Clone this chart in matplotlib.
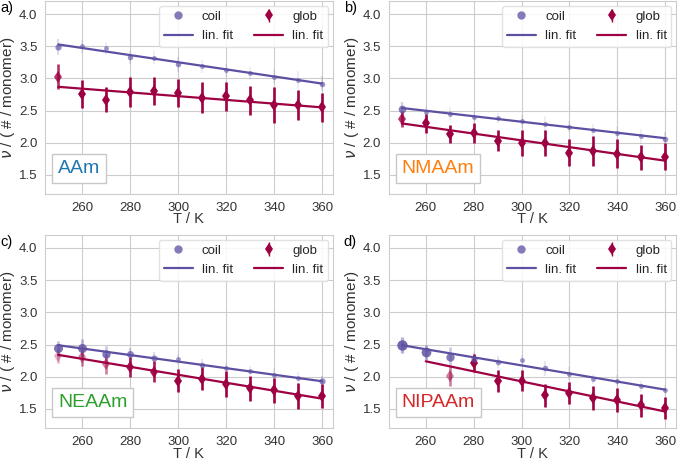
import numpy as np
import matplotlib
matplotlib.use("Agg")
import matplotlib.pyplot as plt
import seaborn as sns

sns.set_style("whitegrid")
plt.rcParams['font.family'] = ['Liberation Sans', 'DejaVu Sans']

T = [250, 260, 270, 280, 290, 300, 310, 320, 330, 340, 350, 360]

names = ["AAm", "NMAAm", "NEAAm", "NIPAAm"]
name_colors = ["#1f77b4", "#ff7f0e", "#2ca02c", "#d62728"]
letters = ["a)", "b)", "c)", "d)"]

# coil values per panel
coil_y = [
    [3.49, 3.50, 3.47, 3.33, 3.32, 3.22, 3.19, 3.13, 3.08, 3.03, 2.97, 2.92],
    [2.53, 2.48, 2.45, 2.40, 2.39, 2.33, 2.29, 2.25, 2.19, 2.15, 2.10, 2.06],
    [2.44, 2.45, 2.35, 2.35, 2.29, 2.27, 2.18, 2.13, 2.09, 2.03, 1.98, 1.93],
    [2.49, 2.38, 2.31, 2.27, 2.23, 2.26, 2.13, 2.05, 1.96, 1.94, 1.85, 1.79],
]
coil_err = [
    [0.13, 0.10, 0.10, 0.10, 0.10, 0.12, 0.10, 0.10, 0.10, 0.12, 0.14, 0.12],
    [0.10, 0.08, 0.10, 0.08, 0.08, 0.10, 0.12, 0.08, 0.10, 0.10, 0.12, 0.10],
    [0.12, 0.13, 0.12, 0.10, 0.10, 0.08, 0.10, 0.08, 0.08, 0.10, 0.10, 0.08],
    [0.12, 0.12, 0.15, 0.10, 0.10, 0.08, 0.12, 0.10, 0.08, 0.08, 0.08, 0.08],
]
# relative weight of each coil point (marker size / opacity)
coil_w = [
    [0.3, 0.1, 0.1, 0.2, 0.1, 0.2, 0.1, 0.1, 0.1, 0.1, 0.1, 0.2],
    [0.5, 0.1, 0.1, 0.1, 0.1, 0.1, 0.1, 0.1, 0.1, 0.1, 0.1, 0.2],
    [0.7, 0.7, 0.6, 0.4, 0.3, 0.1, 0.2, 0.1, 0.1, 0.1, 0.1, 0.3],
    [0.9, 0.8, 0.6, 0.3, 0.2, 0.1, 0.2, 0.1, 0.1, 0.1, 0.1, 0.1],
]

# glob values per panel (None = no point)
glob_y = [
    [3.03, 2.76, 2.67, 2.79, 2.80, 2.77, 2.70, 2.72, 2.66, 2.58, 2.59, 2.55],
    [2.37, 2.30, 2.13, 2.15, 2.03, 2.00, 2.00, 1.84, 1.87, 1.83, 1.77, 1.78],
    [2.33, 2.30, 2.20, 2.15, 2.08, 1.94, 1.97, 1.89, 1.82, 1.79, 1.70, 1.70],
    [None, None, 2.01, 2.21, 1.93, 1.94, 1.71, 1.75, 1.67, 1.64, 1.56, 1.51],
]
glob_err = [
    [0.20, 0.22, 0.19, 0.23, 0.22, 0.22, 0.24, 0.22, 0.23, 0.28, 0.23, 0.23],
    [0.12, 0.15, 0.14, 0.16, 0.16, 0.20, 0.20, 0.21, 0.24, 0.23, 0.20, 0.21],
    [0.12, 0.14, 0.15, 0.15, 0.16, 0.18, 0.18, 0.20, 0.19, 0.19, 0.20, 0.19],
    [0.00, 0.00, 0.16, 0.14, 0.17, 0.16, 0.18, 0.17, 0.18, 0.18, 0.18, 0.17],
]
glob_alpha = [
    [0.8, 1, 1, 1, 1, 1, 1, 1, 1, 1, 1, 1],
    [0.8, 1, 1, 1, 1, 1, 1, 1, 1, 1, 1, 1],
    [0.3, 0.5, 0.5, 0.9, 0.9, 1, 1, 1, 1, 1, 1, 1],
    [0, 0, 0.5, 1, 1, 1, 1, 1, 1, 1, 1, 1],
]

# linear fit end points [T0, T1], [v0, v1]
coil_fit_T = [[250, 360], [250, 360], [250, 360], [250, 360]]
coil_fit_v = [[3.53, 2.92], [2.54, 2.07], [2.49, 1.93], [2.49, 1.80]]
glob_fit_T = [[250, 360], [250, 360], [250, 360], [260, 360]]
glob_fit_v = [[2.87, 2.55], [2.30, 1.72], [2.34, 1.66], [2.24, 1.46]]

c_coil = "#5e4fa2"
c_glob = "#9e0142"

fig = plt.figure(figsize=(6.82, 4.61), dpi=100)
boxes = [
    [0.066, 0.579, 0.422, 0.418],
    [0.570, 0.579, 0.421, 0.418],
    [0.066, 0.071, 0.422, 0.419],
    [0.570, 0.071, 0.421, 0.419],
]

for i in range(4):
    ax = fig.add_axes(boxes[i])
    for sp in ax.spines.values():
        sp.set_color("#cccccc")

    # coil points
    for t, y, e, w in zip(T, coil_y[i], coil_err[i], coil_w[i]):
        ax.errorbar(t, y, yerr=e, fmt="none", ecolor=c_coil, alpha=0.08 + 0.4 * w,
                    elinewidth=1.0 + 1.5 * w, zorder=2)
        ax.plot(t, y, "o", color=c_coil, ms=3 + 5 * w, alpha=0.55 + 0.35 * w,
                mew=0, zorder=4)

    # glob points
    for t, y, e, a in zip(T, glob_y[i], glob_err[i], glob_alpha[i]):
        if y is None:
            continue
        ax.errorbar(t, y, yerr=e, fmt="d", color=c_glob, ms=6.5, mew=0,
                    elinewidth=1.9, alpha=a, zorder=3)

    l1, = ax.plot(coil_fit_T[i], coil_fit_v[i], color=c_coil, lw=1.6, zorder=5)
    l2, = ax.plot(glob_fit_T[i], glob_fit_v[i], color=c_glob, lw=1.6, zorder=5)

    h1, = ax.plot([], [], "o", color=c_coil, alpha=0.75, ms=6, mew=0)
    h2 = ax.errorbar([], [], yerr=[], fmt="d", color=c_glob, ms=6, mew=0, elinewidth=1)
    leg = ax.legend([h1, l1, h2, l2], ["coil", "lin. fit", "glob", "lin. fit"],
                    ncol=2, loc="upper right", fontsize=9.5, frameon=True,
                    borderpad=0.35, labelspacing=0.55, handlelength=2.2,
                    columnspacing=1.6, handletextpad=0.7, borderaxespad=0.35)
    leg.get_frame().set_edgecolor("#dddddd")
    leg.get_frame().set_facecolor("white")
    leg.get_frame().set_alpha(0.85)

    ax.text(0.045, 0.09, names[i], transform=ax.transAxes, fontsize=14,
            color=name_colors[i], va="bottom", ha="left",
            bbox=dict(boxstyle="square,pad=0.3", fc="white", ec="#c8c8c8", lw=1))

    ax.set_ylim(1.2, 4.2)
    ax.set_yticks([1.5, 2.0, 2.5, 3.0, 3.5, 4.0])
    ax.set_xticks([260, 280, 300, 320, 340, 360])
    ax.set_xlim(244.5, 364.5)
    ax.tick_params(labelsize=9.5, colors="#333333", pad=2)
    ax.set_xlabel("T / K", fontsize=10.5, color="#333333", labelpad=-1)
    ax.set_ylabel("$\\nu$ / ( # / monomer)", fontsize=11, color="#333333", labelpad=1)

    fig.text(boxes[i][0] - 0.066, boxes[i][1] + boxes[i][3] - 0.03, letters[i],
             fontsize=10.5, color="black", ha="left", va="bottom")

fig.savefig("out.png", dpi=100)
